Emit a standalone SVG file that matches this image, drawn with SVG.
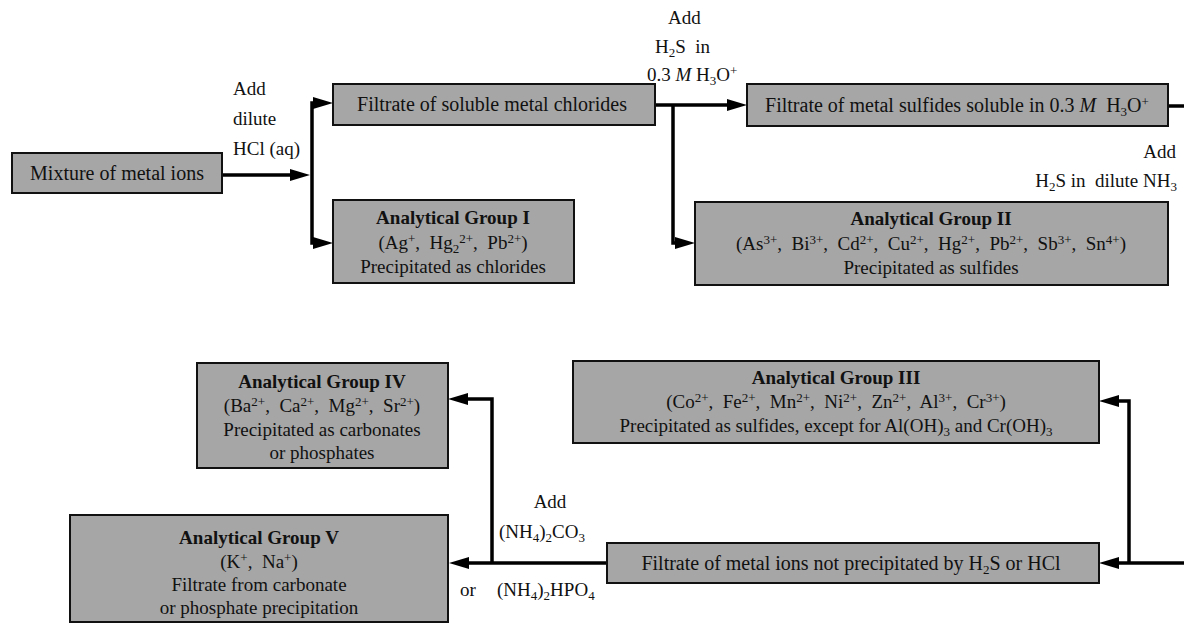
<svg xmlns="http://www.w3.org/2000/svg" width="1184" height="623" viewBox="0 0 1184 623">
<defs>
<style>
text{font-family:"Liberation Serif","Times New Roman",serif;font-size:19px;fill:#111;white-space:pre;}
.c{text-anchor:middle;}
.r{text-anchor:end;}
.b{font-weight:bold;}
.big{font-size:20px;}
.box{fill:#a6a6a6;stroke:#111;stroke-width:2;}
.con{fill:none;stroke:#000;stroke-width:3.5;}
.arr{marker-end:url(#ah);}
.sub{font-size:13px;}
.i{font-style:italic;}
</style>
<marker id="ah" markerUnits="userSpaceOnUse" markerWidth="20" markerHeight="12" refX="0" refY="6" orient="auto">
<path d="M0,0 L20,6 L0,12 Z" fill="#000"/>
</marker>
</defs>
<rect width="1184" height="623" fill="#fff"/>

<g id="connectors">
<path class="con arr" d="M222,175 H290"/>
<path class="con arr" d="M312,175 V103 H313"/>
<path class="con arr" d="M312,175 V243 H313"/>
<path class="con arr" d="M655,105 H727"/>
<path class="con arr" d="M673,105 V243 H675"/>
<path class="con" d="M1168,106 H1184"/>
<path class="con arr" d="M1184,563 H1119"/>
<path class="con arr" d="M1129,563 V401 H1119"/>
<path class="con arr" d="M607,563 H469"/>
<path class="con arr" d="M492,563 V399 H468"/>
</g>

<g id="labels">
<text x="233" y="95">Add</text>
<text x="233" y="125">dilute</text>
<text x="233" y="155">HCl (aq)</text>
<text x="668" y="24">Add</text>
<text x="655" y="53">H<tspan class="sub" dy="4">2</tspan><tspan dy="-4">S  in</tspan></text>
<text x="647" y="81">0.3 <tspan class="i">M</tspan> H<tspan class="sub" dy="4">3</tspan><tspan dy="-4">O</tspan><tspan class="sub" dy="-6">+</tspan></text>
<text class="r" x="1176" y="158">Add</text>
<text class="r" x="1177" y="187">H<tspan class="sub" dy="4">2</tspan><tspan dy="-4">S in  dilute NH</tspan><tspan class="sub" dy="4">3</tspan></text>
<text class="c" x="550" y="508">Add</text>
<text x="499" y="538">(NH<tspan class="sub" dy="4">4</tspan><tspan dy="-4">)</tspan><tspan class="sub" dy="4">2</tspan><tspan dy="-4">CO</tspan><tspan class="sub" dy="4">3</tspan></text>
<text x="460" y="596">or</text>
<text x="497" y="596">(NH<tspan class="sub" dy="4">4</tspan><tspan dy="-4">)</tspan><tspan class="sub" dy="4">2</tspan><tspan dy="-4">HPO</tspan><tspan class="sub" dy="4">4</tspan></text>
</g>

<g id="mixture">
<rect class="box" x="12" y="153" width="210" height="40"/>
<text class="c big" x="117" y="180">Mixture of metal ions</text>
</g>

<g id="filtrate-chlorides">
<rect class="box" x="333" y="84" width="322" height="41"/>
<text class="c big" x="492" y="111">Filtrate of soluble metal chlorides</text>
</g>

<g id="group1">
<rect class="box" x="333" y="200" width="241" height="83"/>
<text class="c b" x="453" y="224">Analytical Group I</text>
<text class="c" x="453" y="249">(Ag<tspan class="sub" dy="-6">+</tspan><tspan dy="6">,  Hg</tspan><tspan class="sub" dy="4">2</tspan><tspan class="sub" dy="-10">2+</tspan><tspan dy="6">,  Pb</tspan><tspan class="sub" dy="-6">2+</tspan><tspan dy="6">)</tspan></text>
<text class="c" x="453" y="273">Precipitated as chlorides</text>
</g>

<g id="filtrate-sulfides">
<rect class="box" x="747" y="84" width="421" height="42"/>
<text class="c big" x="957" y="112">Filtrate of metal sulfides soluble in 0.3 <tspan class="i">M</tspan>  H<tspan class="sub" dy="4">3</tspan><tspan dy="-4">O</tspan><tspan class="sub" dy="-6">+</tspan></text>
</g>

<g id="group2">
<rect class="box" x="695" y="202" width="473" height="83"/>
<text class="c b" x="931" y="225">Analytical Group II</text>
<text class="c" x="931" y="250">(As<tspan class="sub" dy="-6">3+</tspan><tspan dy="6">,  Bi</tspan><tspan class="sub" dy="-6">3+</tspan><tspan dy="6">,  Cd</tspan><tspan class="sub" dy="-6">2+</tspan><tspan dy="6">,  Cu</tspan><tspan class="sub" dy="-6">2+</tspan><tspan dy="6">,  Hg</tspan><tspan class="sub" dy="-6">2+</tspan><tspan dy="6">,  Pb</tspan><tspan class="sub" dy="-6">2+</tspan><tspan dy="6">,  Sb</tspan><tspan class="sub" dy="-6">3+</tspan><tspan dy="6">,  Sn</tspan><tspan class="sub" dy="-6">4+</tspan><tspan dy="6">)</tspan></text>
<text class="c" x="931" y="274">Precipitated as sulfides</text>
</g>

<g id="group3">
<rect class="box" x="573" y="361" width="526" height="82"/>
<text class="c b" x="836" y="384">Analytical Group III</text>
<text class="c" x="836" y="408">(Co<tspan class="sub" dy="-6">2+</tspan><tspan dy="6">,  Fe</tspan><tspan class="sub" dy="-6">2+</tspan><tspan dy="6">,  Mn</tspan><tspan class="sub" dy="-6">2+</tspan><tspan dy="6">,  Ni</tspan><tspan class="sub" dy="-6">2+</tspan><tspan dy="6">,  Zn</tspan><tspan class="sub" dy="-6">2+</tspan><tspan dy="6">,  Al</tspan><tspan class="sub" dy="-6">3+</tspan><tspan dy="6">,  Cr</tspan><tspan class="sub" dy="-6">3+</tspan><tspan dy="6">)</tspan></text>
<text class="c" x="836" y="432">Precipitated as sulfides, except for Al(OH)<tspan class="sub" dy="4">3</tspan><tspan dy="-4"> and Cr(OH)</tspan><tspan class="sub" dy="4">3</tspan></text>
</g>

<g id="group4">
<rect class="box" x="197" y="363" width="251" height="105"/>
<text class="c b" x="322" y="388">Analytical Group IV</text>
<text class="c" x="322" y="412">(Ba<tspan class="sub" dy="-6">2+</tspan><tspan dy="6">,  Ca</tspan><tspan class="sub" dy="-6">2+</tspan><tspan dy="6">,  Mg</tspan><tspan class="sub" dy="-6">2+</tspan><tspan dy="6">,  Sr</tspan><tspan class="sub" dy="-6">2+</tspan><tspan dy="6">)</tspan></text>
<text class="c" x="322" y="436">Precipitated as carbonates</text>
<text class="c" x="322" y="459">or phosphates</text>
</g>

<g id="filtrate-ions">
<rect class="box" x="607" y="543" width="492" height="40"/>
<text class="c big" x="851" y="570">Filtrate of metal ions not precipitated by H<tspan class="sub" dy="4">2</tspan><tspan dy="-4">S or HCl</tspan></text>
</g>

<g id="group5">
<rect class="box" x="70" y="515" width="378" height="107"/>
<text class="c b" x="259" y="544">Analytical Group V</text>
<text class="c" x="259" y="568">(K<tspan class="sub" dy="-6">+</tspan><tspan dy="6">,  Na</tspan><tspan class="sub" dy="-6">+</tspan><tspan dy="6">)</tspan></text>
<text class="c" x="259" y="591">Filtrate from carbonate</text>
<text class="c" x="259" y="614">or phosphate precipitation</text>
</g>
</svg>
